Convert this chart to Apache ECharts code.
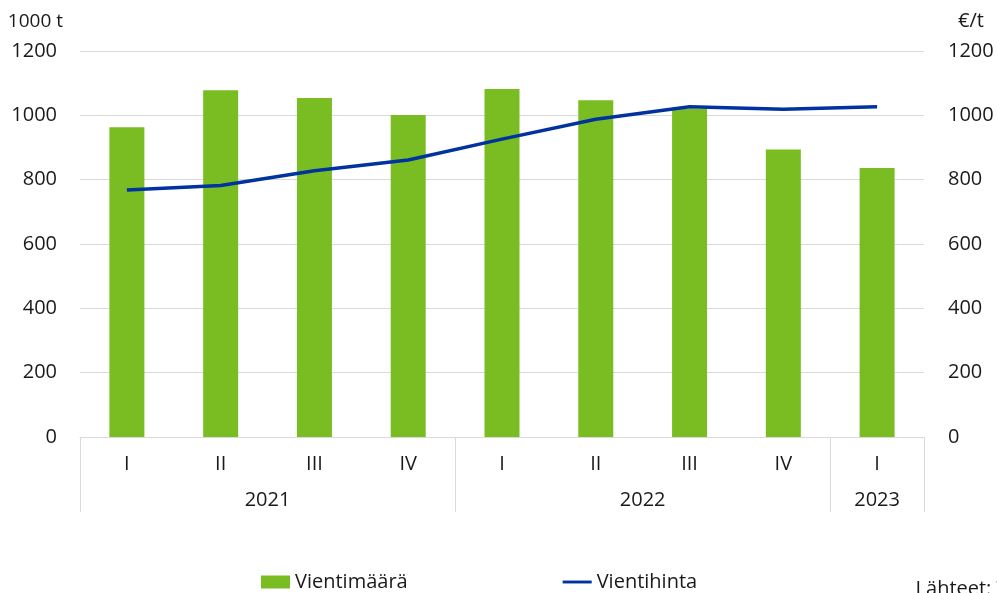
<!DOCTYPE html>
<html><head><meta charset="utf-8">
<script src="https://cdn.jsdelivr.net/npm/echarts@6/dist/echarts.min.js"></script>
<style>html,body{margin:0;padding:0;background:#fff}#c{width:997px;height:593px}</style>
</head><body><div id="c"></div>
<script>
const quarters = ['I','II','III','IV','I','II','III','IV','I'];
const years = ['2021','2022','2023'];
const quartersPerYear = [4,4,1];
const volume = [963,1078,1054,1001,1082,1047,1020,894,836];
const price = [768,782,828,861,926,988,1027,1019,1027];
const yTicks = [0,200,400,600,800,1000,1200];

const bounds=[0]; quartersPerYear.forEach(n=>bounds.push(bounds[bounds.length-1]+n));
const yearCenters = quartersPerYear.map((n,i)=>bounds[i]+n/2);

const font = '"Open Sans", "Noto Sans", sans-serif';
const txt = '#1a1a1a';
const chart = echarts.init(document.getElementById('c'));
chart.setOption({
  animation:false,
  textStyle:{fontFamily:font},
  grid:{left:80,right:73,top:51,bottom:156,outerBoundsMode:'none',containLabel:false},
  legend:{bottom:-4,left:256,itemWidth:29,itemHeight:13,itemGap:155,
    textStyle:{fontSize:20,color:txt,fontFamily:font},
    data:[{name:'Vientimäärä',icon:'rect'},{name:'Vientihinta',icon:'path://M0 0h32v3.2H0z'}]},
  xAxis:[
    {type:'category',data:quarters,position:'bottom',
     axisLine:{lineStyle:{color:'#d9d9d9'}},axisTick:{show:false},
     axisLabel:{fontSize:20,color:txt,margin:17,fontFamily:font}},
    {type:'value',min:0,max:bounds[bounds.length-1],position:'bottom',
     axisLine:{show:false},splitLine:{show:false},
     axisTick:{show:true,customValues:bounds,length:75,lineStyle:{color:'#d9d9d9'}},
     axisLabel:{customValues:yearCenters,margin:53,fontSize:20,color:txt,fontFamily:font,
       formatter:(v)=>{const i=yearCenters.indexOf(v);return i>=0?years[i]:'';}}}
  ],
  yAxis:[
    {type:'value',min:yTicks[0],max:yTicks[yTicks.length-1],interval:200,
     name:'1000 t',nameLocation:'end',nameGap:20,
     nameTextStyle:{fontSize:19,color:txt,align:'right',padding:[0,17,0,0],fontFamily:font},
     axisLine:{show:false},axisTick:{show:false},
     axisLabel:{fontSize:20,color:txt,margin:23,fontFamily:font,formatter:v=>String(v)},
     splitLine:{lineStyle:{color:'#d9d9d9'}}},
    {type:'value',min:yTicks[0],max:yTicks[yTicks.length-1],interval:200,position:'right',
     name:'€/t',nameLocation:'end',nameGap:20,
     nameTextStyle:{fontSize:20,color:txt,align:'left',padding:[0,0,0,34],fontFamily:font},
     axisLine:{show:false},axisTick:{show:false},
     axisLabel:{fontSize:20,color:txt,margin:24,fontFamily:font,formatter:v=>String(v)},
     splitLine:{show:false}}
  ],
  series:[
    {name:'Vientimäärä',type:'bar',data:volume,xAxisIndex:0,yAxisIndex:0,barWidth:35,
     itemStyle:{color:'#7abd22'}},
    {name:'Vientihinta',type:'line',data:price,xAxisIndex:0,yAxisIndex:1,symbol:'none',
     lineStyle:{color:'#0033a0',width:3.5},itemStyle:{color:'#0033a0'}}
  ],
  graphic:[{type:'text',right:-38,bottom:-6,style:{text:'Lähteet: Tulli',fontSize:20,fill:txt,fontFamily:font}}]
});
</script></body></html>
